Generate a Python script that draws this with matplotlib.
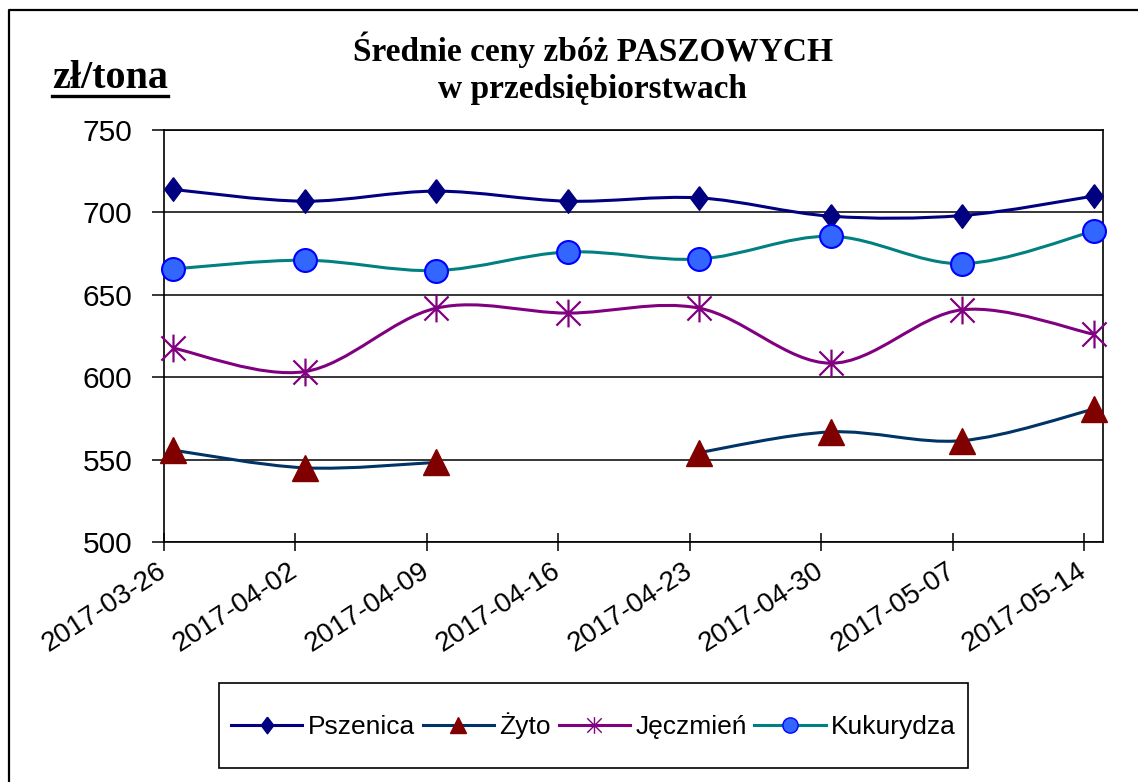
import datetime as dt

import matplotlib

matplotlib.use("Agg")
import matplotlib.dates as mdates
import matplotlib.pyplot as plt
import numpy as np
from matplotlib.lines import Line2D
from matplotlib.patches import PathPatch, Rectangle
from matplotlib.path import Path

# weekly average prices, zł/tona (None = no quote that week)
DATES = ["2017-03-26", "2017-04-02", "2017-04-09", "2017-04-16",
         "2017-04-23", "2017-04-30", "2017-05-07", "2017-05-14"]
PSZENICA = [713.9, 706.8, 712.9, 706.8, 708.8, 697.7, 698.1, 709.9]
ZYTO = [555.7, 545.0, 548.3, None, 554.3, 566.8, 561.5, 580.6]
JECZMIEN = [617.6, 603.4, 641.9, 638.9, 641.9, 608.5, 640.9, 626.1]
KUKURYDZA = [665.7, 671.0, 664.7, 676.0, 671.7, 685.5, 668.9, 688.6]
LABELS = ["Pszenica", "Żyto", "Jęczmień", "Kukurydza"]
Y_TICKS = [500, 550, 600, 650, 700, 750]

TITLE = "Średnie ceny zbóż PASZOWYCH\nw przedsiębiorstwach"
UNIT = "zł/tona"

plt.rcParams["font.family"] = ["Liberation Sans", "DejaVu Sans"]

# excel-like markers
_DIAMOND = [(0, 1), (0.75, 0), (0, -1), (-0.75, 0), (0, 1)]
_STAR = Path([(-1, -1), (1, 1), (-1, 1), (1, -1), (0, -1.15), (0, 1.15)],
             [Path.MOVETO, Path.LINETO, Path.MOVETO, Path.LINETO, Path.MOVETO, Path.LINETO])

STYLES = [
    dict(color="#000080", marker=_DIAMOND, mfc="#000080", mec="#000080", ms=17, lms=12, mew=1),
    dict(color="#003366", marker="^", mfc="#800000", mec="#800000", ms=19, lms=11, mew=1),
    dict(color="#800080", marker=_STAR, mfc="none", mec="#800080", ms=20, lms=12, mew=1.6),
    dict(color="#008080", marker="o", mfc="#3366FF", mec="#0000FF", ms=16.5, lms=11, mew=1.5),
]


def _smooth(xs, ys):
    # catmull-rom -> cubic bezier, same idea as excel's "smoothed line"
    pts = np.column_stack([xs, ys])
    n = len(pts)
    verts, codes = [pts[0]], [Path.MOVETO]
    for i in range(n - 1):
        p0, p1 = pts[max(i - 1, 0)], pts[i]
        p2, p3 = pts[i + 1], pts[min(i + 2, n - 1)]
        verts += [p1 + (p2 - p0) / 6, p2 - (p3 - p1) / 6, p2]
        codes += [Path.CURVE4] * 3
    return Path(verts, codes)


def _segments(xs, ys):
    seg = []
    for x, y in zip(xs, ys):
        if y is None:
            if seg:
                yield seg
            seg = []
        else:
            seg.append((x, y))
    if seg:
        yield seg


def main() -> None:
    fig = plt.figure(figsize=(11.38, 7.82), dpi=100)
    ax = fig.add_axes([164 / 1138, 1 - 542 / 782, (1103 - 164) / 1138, (542 - 130) / 782])

    days = np.array([mdates.date2num(dt.date.fromisoformat(d)) for d in DATES])
    xs = days + 0.5  # points sit mid-day, between tick marks

    for z, (vals, st) in enumerate(zip([PSZENICA, ZYTO, JECZMIEN, KUKURYDZA], STYLES)):
        for seg in _segments(xs, vals):
            sx = [p[0] for p in seg]
            sy = [p[1] for p in seg]
            if len(seg) > 1:
                ax.add_patch(PathPatch(_smooth(sx, sy), fill=False, edgecolor=st["color"],
                                       lw=2.2, zorder=3 + 2 * z, capstyle="round"))
            ax.plot(sx, sy, ls="none", marker=st["marker"], ms=st["ms"], mfc=st["mfc"],
                    mec=st["mec"], mew=st["mew"], zorder=4 + 2 * z, clip_on=False)

    ax.set_xlim(days[0], days[-1] + 1)
    ax.set_ylim(Y_TICKS[0], Y_TICKS[-1])
    ax.set_yticks(Y_TICKS)
    ax.set_xticks(days)
    ax.set_xticklabels(DATES, rotation=33, ha="right", va="center", rotation_mode="anchor")
    ax.tick_params(axis="y", labelsize=21.5, length=8.6, width=1.1, pad=14, direction="out")
    ax.tick_params(axis="x", labelsize=20, length=13, width=1.1, pad=13, direction="inout")
    ax.grid(axis="y", color="black", lw=1.1)
    ax.set_axisbelow(True)
    for sp in ax.spines.values():
        sp.set_color("black")
        sp.set_linewidth(1.2)

    fig.text(0.5207, 1 - 68 / 782, TITLE, ha="center", va="center", fontsize=24,
             fontweight="bold", family="Liberation Serif", linespacing=1.25)
    fig.text(52 / 1138, 1 - 88 / 782, UNIT, ha="left", va="baseline", fontsize=29,
             fontweight="bold", family="Liberation Serif")
    fig.add_artist(Line2D([52 / 1138, 168 / 1138], [1 - 96 / 782] * 2, color="black", lw=2.4,
                          transform=fig.transFigure))

    # outer chart frame (only top and left edges are inside the picture)
    fig.add_artist(Line2D([9 / 1138, 9 / 1138, 1], [0, 1 - 10 / 782, 1 - 10 / 782], color="black",
                          lw=1.6, transform=fig.transFigure))

    handles = [Line2D([], [], color=st["color"], lw=2.2, marker=st["marker"], ms=st["lms"],
                      mfc=st["mfc"], mec=st["mec"], mew=1) for st in STYLES]
    fig.legend(handles, LABELS, loc="center", bbox_to_anchor=(0.5215, 1 - 725.5 / 782), ncol=4,
               frameon=False, fontsize=19, handlelength=2.7, handletextpad=0.2, columnspacing=0.3)
    fig.add_artist(Rectangle((219 / 1138, 1 - 768 / 782), (968 - 219) / 1138, 85 / 782, fill=False,
                             edgecolor="black", lw=1.2, transform=fig.transFigure))

    fig.savefig("out.png", dpi=100)


if __name__ == "__main__":
    main()
